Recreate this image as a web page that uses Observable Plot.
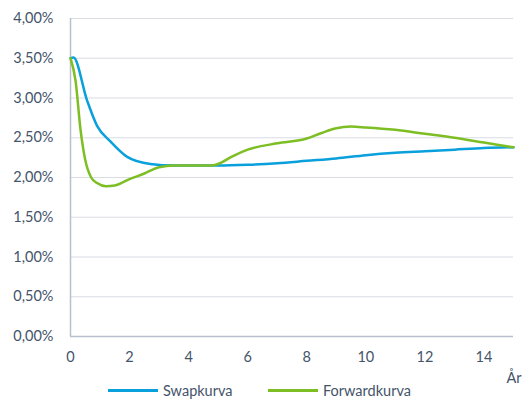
<!DOCTYPE html>
<html><head><meta charset="utf-8">
<script src="https://cdn.jsdelivr.net/npm/d3@7"></script>
<script src="https://cdn.jsdelivr.net/npm/@observablehq/plot@0.6"></script>
<style>
body{margin:0;background:#fff;font-family:Lato,"Open Sans",sans-serif;overflow:hidden;width:523px;height:401px}
#legend{position:relative;height:17px;font-size:14.5px;color:#44546A}
.item{position:absolute;top:-2px;display:flex;align-items:center;height:17px;line-height:17px}
.sw{display:inline-block;width:50px;height:3px;margin-right:5px}
</style></head><body>
<div id="chart"></div>
<div id="legend"></div>
<script>
const swapYears = [0, 0.1, 0.56, 0.9, 1.36, 1.92, 2.7, 3.5, 5, 6, 7, 8, 9, 10, 11, 12, 13, 14, 15];
const swapRates = [3.50, 3.51, 2.97, 2.65, 2.45, 2.26, 2.17, 2.15, 2.15, 2.16, 2.18, 2.21, 2.24, 2.28, 2.31, 2.33, 2.35, 2.37, 2.38];
const fwdYears = [0, 0.17, 0.34, 0.5, 0.7, 0.9, 1.2, 1.5, 2, 2.5, 3, 3.5, 4, 4.75, 5, 5.5, 6, 7, 8, 8.5, 9, 9.5, 10, 11, 12, 13, 14, 15];
const fwdRates = [3.50, 3.22, 2.60, 2.22, 2.00, 1.93, 1.89, 1.90, 1.98, 2.05, 2.13, 2.15, 2.15, 2.15, 2.17, 2.27, 2.35, 2.43, 2.49, 2.56, 2.62, 2.64, 2.63, 2.60, 2.55, 2.50, 2.44, 2.38];
const seriesNames = ["Swapkurva", "Forwardkurva"];
const seriesColors = ["#0AA0DC", "#7DBE24"];
const xTicks = [0, 2, 4, 6, 8, 10, 12, 14];
const yTicks = [0, 0.5, 1, 1.5, 2, 2.5, 3, 3.5, 4];
const xLabel = "År";

const swap = swapYears.map((x, i) => ({x, y: swapRates[i]}));
const fwd = fwdYears.map((x, i) => ({x, y: fwdRates[i]}));
const fmt = d => d.toFixed(2).replace(".", ",") + "%";

const plot = Plot.plot({
  width: 523, height: 384,
  marginTop: 18, marginBottom: 48, marginLeft: 70, marginRight: 10,
  style: {fontFamily: "Lato, 'Open Sans', sans-serif", fontSize: "14.5px", color: "#44546A"},
  x: {domain: [0, 15]},
  y: {domain: [0, 4]},
  marks: [
    Plot.ruleY(yTicks.filter(d => d > 0), {stroke: "#D9DCE3", strokeWidth: 1.2}),
    Plot.axisY({ticks: yTicks, tickFormat: fmt, tickSize: 0, tickPadding: 17, label: null}),
    Plot.axisX({ticks: xTicks, tickSize: 0, tickPadding: 15, label: null}),
    Plot.ruleX([0], {stroke: "#B8C0CE", strokeWidth: 1.5}),
    Plot.ruleY([0], {stroke: "#B8C0CE", strokeWidth: 1.5}),
    Plot.line(swap, {x: "x", y: "y", stroke: seriesColors[0], strokeWidth: 2.5, curve: "monotone-x"}),
    Plot.line(fwd, {x: "x", y: "y", stroke: seriesColors[1], strokeWidth: 2.5, curve: "monotone-x"}),
    Plot.text([xLabel], {frameAnchor: "bottom-right", dx: 8, dy: 46, fill: "#44546A", fontSize: 14.5})
  ]
});
document.getElementById("chart").appendChild(plot);

const lg = document.getElementById("legend");
const lefts = [108, 268];
seriesNames.forEach((n, i) => {
  const d = document.createElement("div");
  d.className = "item";
  d.style.left = lefts[i] + "px";
  d.innerHTML = `<span class="sw" style="background:${seriesColors[i]}"></span><span>${n}</span>`;
  lg.appendChild(d);
});
</script>
</body></html>
